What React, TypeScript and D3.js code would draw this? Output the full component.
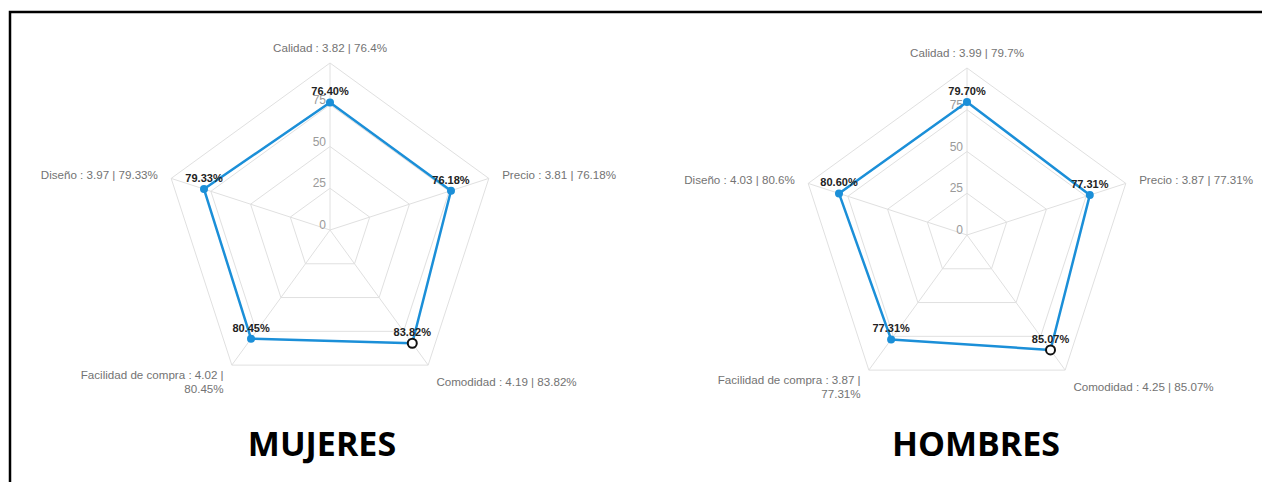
import React from "react";
import * as d3 from "d3";

// radar axes (clockwise from the top)
const axes = ["Calidad", "Precio", "Comodidad", "Facilidad de compra", "Diseño"];

const mujeresScores = [3.82, 3.81, 4.19, 4.02, 3.97];
const mujeresPct = [76.4, 76.18, 83.82, 80.45, 79.33];

const hombresScores = [3.99, 3.87, 4.25, 3.87, 4.03];
const hombresPct = [79.7, 77.31, 85.07, 77.31, 80.6];

const ringTicks = [0, 25, 50, 75, 100];
const tickLabels = ["0", "25", "50", "75"];

const W = 1262;
const H = 482;
const R = 167;
const BLUE = "#1b8fd8";
const labelFont = "'Liberation Sans', Arial, Helvetica, sans-serif";

type RadarProps = {
  cx: number;
  cy: number;
  title: string;
  titleX: number;
  scores: number[];
  pct: number[];
  hovered: number;
};

const Radar: React.FC<RadarProps> = ({ cx, cy, title, titleX, scores, pct, hovered }) => {
  const r = d3.scaleLinear().domain([0, 100]).range([0, R]);
  const angle = (i: number) => (i * 2 * Math.PI) / axes.length;

  const ring = d3
    .lineRadial<number>()
    .angle((_, i) => angle(i))
    .curve(d3.curveLinearClosed);

  const dataLine = d3
    .lineRadial<number>()
    .angle((_, i) => angle(i))
    .radius((d) => r(d))
    .curve(d3.curveLinearClosed);

  return (
    <g>
      <g transform={`translate(${cx},${cy})`}>
        {/* grid rings */}
        {ringTicks.slice(1).map((t) => (
          <path
            key={t}
            d={ring.radius(() => r(t))(axes.map(() => t)) || ""}
            fill="none"
            stroke="#e0e0e0"
            strokeWidth={1}
          />
        ))}
        {/* spokes */}
        {axes.map((a, i) => {
          const [x, y] = d3.pointRadial(angle(i), r(100));
          return <line key={a} x1={0} y1={0} x2={x} y2={y} stroke="#e0e0e0" strokeWidth={1} />;
        })}
        {/* ring labels */}
        {tickLabels.map((t) => (
          <text
            key={t}
            x={-4}
            y={-r(+t) - 1}
            textAnchor="end"
            fontFamily={labelFont}
            fontSize={12}
            fill="#9a9a9a"
          >
            {t}
          </text>
        ))}
        {/* axis labels */}
        {axes.map((a, i) => {
          const [px, py] = d3.pointRadial(angle(i), r(100) + 14);
          const s = Math.sin(angle(i));
          const c = Math.cos(angle(i));
          const anchor = Math.abs(s) < 0.1 ? "middle" : s > 0 ? "start" : "end";
          const full = `${a} : ${scores[i]} | ${pct[i]}%`;
          const lines = full.length > 28 ? [full.slice(0, full.indexOf("|") + 1), `${pct[i]}%`] : [full];
          let base = py + 5;
          if (c > 0.9) base = py + 3;
          else if (c < 0) base = py + 10 - (lines.length - 1) * 7;
          return (
            <text
              key={a}
              x={px}
              y={base}
              textAnchor={anchor}
              fontFamily={labelFont}
              fontSize={11.6}
              fill="#737373"
            >
              {lines.map((l, k) => (
                <tspan key={k} x={px} dy={k === 0 ? 0 : 14}>
                  {l}
                </tspan>
              ))}
            </text>
          );
        })}
        {/* data */}
        <path d={dataLine(pct) || ""} fill="none" stroke={BLUE} strokeWidth={2.5} strokeLinejoin="round" />
        {pct.map((v, i) => {
          const [x, y] = d3.pointRadial(angle(i), r(v));
          return i === hovered ? (
            <circle key={i} cx={x} cy={y} r={4.5} fill="#fff" stroke="#111" strokeWidth={2} />
          ) : (
            <circle key={i} cx={x} cy={y} r={4} fill={BLUE} />
          );
        })}
        {pct.map((v, i) => {
          const [x, y] = d3.pointRadial(angle(i), r(v));
          return (
            <text
              key={i}
              x={x}
              y={y - 7}
              textAnchor="middle"
              fontFamily={labelFont}
              fontSize={11}
              fontWeight="bold"
              fill="#222"
            >
              {v.toFixed(2)}%
            </text>
          );
        })}
      </g>
      <text
        x={titleX}
        y={456}
        textAnchor="middle"
        fontFamily="'Open Sans', sans-serif"
        fontWeight={700}
        fontSize={34}
        fill="#000"
      >
        {title}
      </text>
    </g>
  );
};

export default function App() {
  return (
    <svg
      width={W}
      height={H}
      viewBox={`0 0 ${W} ${H}`}
      style={{ position: "absolute", left: 0, top: 0, background: "#fff" }}
    >
      <rect width={W} height={H} fill="#fff" />
      <path d={`M10,${H} V12 H${W}`} fill="none" stroke="#000" strokeWidth={2.5} />
      <Radar cx={330} cy={230} title="MUJERES" titleX={322} scores={mujeresScores} pct={mujeresPct} hovered={2} />
      <Radar cx={967} cy={235} title="HOMBRES" titleX={976} scores={hombresScores} pct={hombresPct} hovered={2} />
    </svg>
  );
}
